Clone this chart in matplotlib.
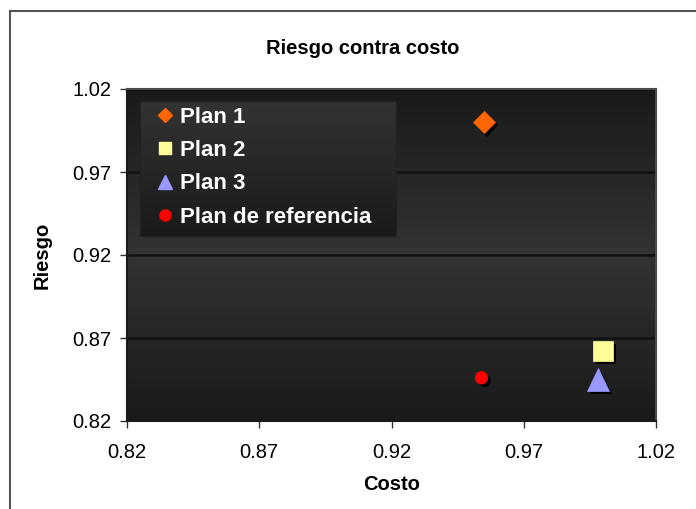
import matplotlib
matplotlib.use("Agg")
import matplotlib.pyplot as plt
import matplotlib.patheffects as pe
from matplotlib.lines import Line2D
from matplotlib.patches import Rectangle
import numpy as np

plt.rcParams['font.family'] = ['Liberation Sans', 'DejaVu Sans']

# Data
series_names = ["Plan 1", "Plan 2", "Plan 3", "Plan de referencia"]
costo = [0.955, 1.000, 0.998, 0.954]
riesgo = [1.000, 0.862, 0.845, 0.846]
colors = ["#FF6600", "#FFFF99", "#9999FF", "#FF0000"]
markers = ["D", "s", "^", "o"]
msizes = [11.5, 14.4, 16, 9]
ticks = [0.82, 0.87, 0.92, 0.97, 1.02]
tick_labels = ["0.82", "0.87", "0.92", "0.97", "1.02"]
title = "Riesgo contra costo"
xlabel = "Costo"
ylabel = "Riesgo"

W, H = 696, 509
fig = plt.figure(figsize=(W / 100, H / 100), dpi=100)
fig.patch.set_facecolor("white")

L, R, T, B = 127, 656, 89, 421
ax = fig.add_axes([L / W, 1 - B / H, (R - L) / W, (B - T) / H])

# background gradient: dark top -> lighter middle -> dark bottom
g = np.concatenate([np.linspace(0x1a, 0x33, 128), np.linspace(0x33, 0x1a, 128)]) / 255.0
grad = np.repeat(g[:, None], 2, axis=1)
grad_rgb = np.dstack([grad, grad, grad])
ax.imshow(grad_rgb, extent=[0, 1, 0, 1], transform=ax.transAxes,
          aspect="auto", zorder=0.1, interpolation="bilinear")

# legend background gradient
lx0, lx1 = (140 - L) / (R - L), (396 - L) / (R - L)
ly1, ly0 = 1 - (101 - T) / (B - T), 1 - (236 - T) / (B - T)
lg = np.linspace(0x33, 0x1a, 128) / 255.0
lgrad = np.dstack([np.repeat(lg[:, None], 2, axis=1)] * 3)
ax.imshow(lgrad, extent=[lx0, lx1, ly0, ly1], transform=ax.transAxes,
          aspect="auto", zorder=3, interpolation="bilinear")
ax.add_patch(Rectangle((lx0, ly0), lx1 - lx0, ly1 - ly0, transform=ax.transAxes,
                       fill=False, edgecolor="#222222", lw=1, zorder=3.1))

shadow = [pe.SimplePatchShadow(offset=(2.2, -2.2), shadow_rgbFace="black", alpha=1.0), pe.Normal()]
for name, x, y, c, m, s in zip(series_names, costo, riesgo, colors, markers, msizes):
    ax.plot([x], [y], linestyle="none", marker=m, markersize=s, markerfacecolor=c,
            markeredgecolor=c, markeredgewidth=0.5, zorder=4, path_effects=shadow)

ax.set_xlim(0.82, 1.02)
ax.set_ylim(0.82, 1.02)
ax.set_xticks(ticks)
ax.set_xticklabels(tick_labels)
ax.set_yticks(ticks)
ax.set_yticklabels(tick_labels)
ax.tick_params(axis="both", direction="out", length=5, width=1, color="#333333",
               labelsize=14.5, labelcolor="black")
ax.tick_params(axis="x", pad=11)
ax.tick_params(axis="y", pad=6)
ax.grid(axis="y", color="#111111", linewidth=1.8, zorder=0.5)
ax.set_axisbelow(True)
for sp in ["top", "right"]:
    ax.spines[sp].set_color("#4a4a4a")
    ax.spines[sp].set_linewidth(1.5)
for sp in ["bottom", "left"]:
    ax.spines[sp].set_color("#1a1a1a")
    ax.spines[sp].set_linewidth(1.5)

handles = [Line2D([], [], linestyle="none", marker=m, markersize=ms, markerfacecolor=c,
                  markeredgecolor=c)
           for m, c, ms in zip(markers, colors, [7, 8.5, 9.5, 8])]
leg = ax.legend(handles, series_names, loc="upper left",
                bbox_to_anchor=(lx0, ly1), frameon=False, prop={"weight": "bold", "size": 16},
                labelcolor="white", handletextpad=-0.2, labelspacing=0.56,
                borderaxespad=0, borderpad=0.25, handlelength=1.75)
leg.set_zorder(5)

fig.text(363 / W, 1 - 48 / H, title, ha="center", va="center", fontsize=14.5, fontweight="bold")
fig.text(392 / W, 1 - 485 / H, xlabel, ha="center", va="center", fontsize=14.5, fontweight="bold")
fig.text(42 / W, 1 - 255 / H, ylabel, ha="center", va="center", fontsize=14.5,
         fontweight="bold", rotation=90)

fig.add_artist(Rectangle((10 / W, -0.1), 1.2, (1 - 11 / H) + 0.1, transform=fig.transFigure,
                         fill=False, edgecolor="#555555", lw=1.5))

fig.savefig("out.png", dpi=100)
